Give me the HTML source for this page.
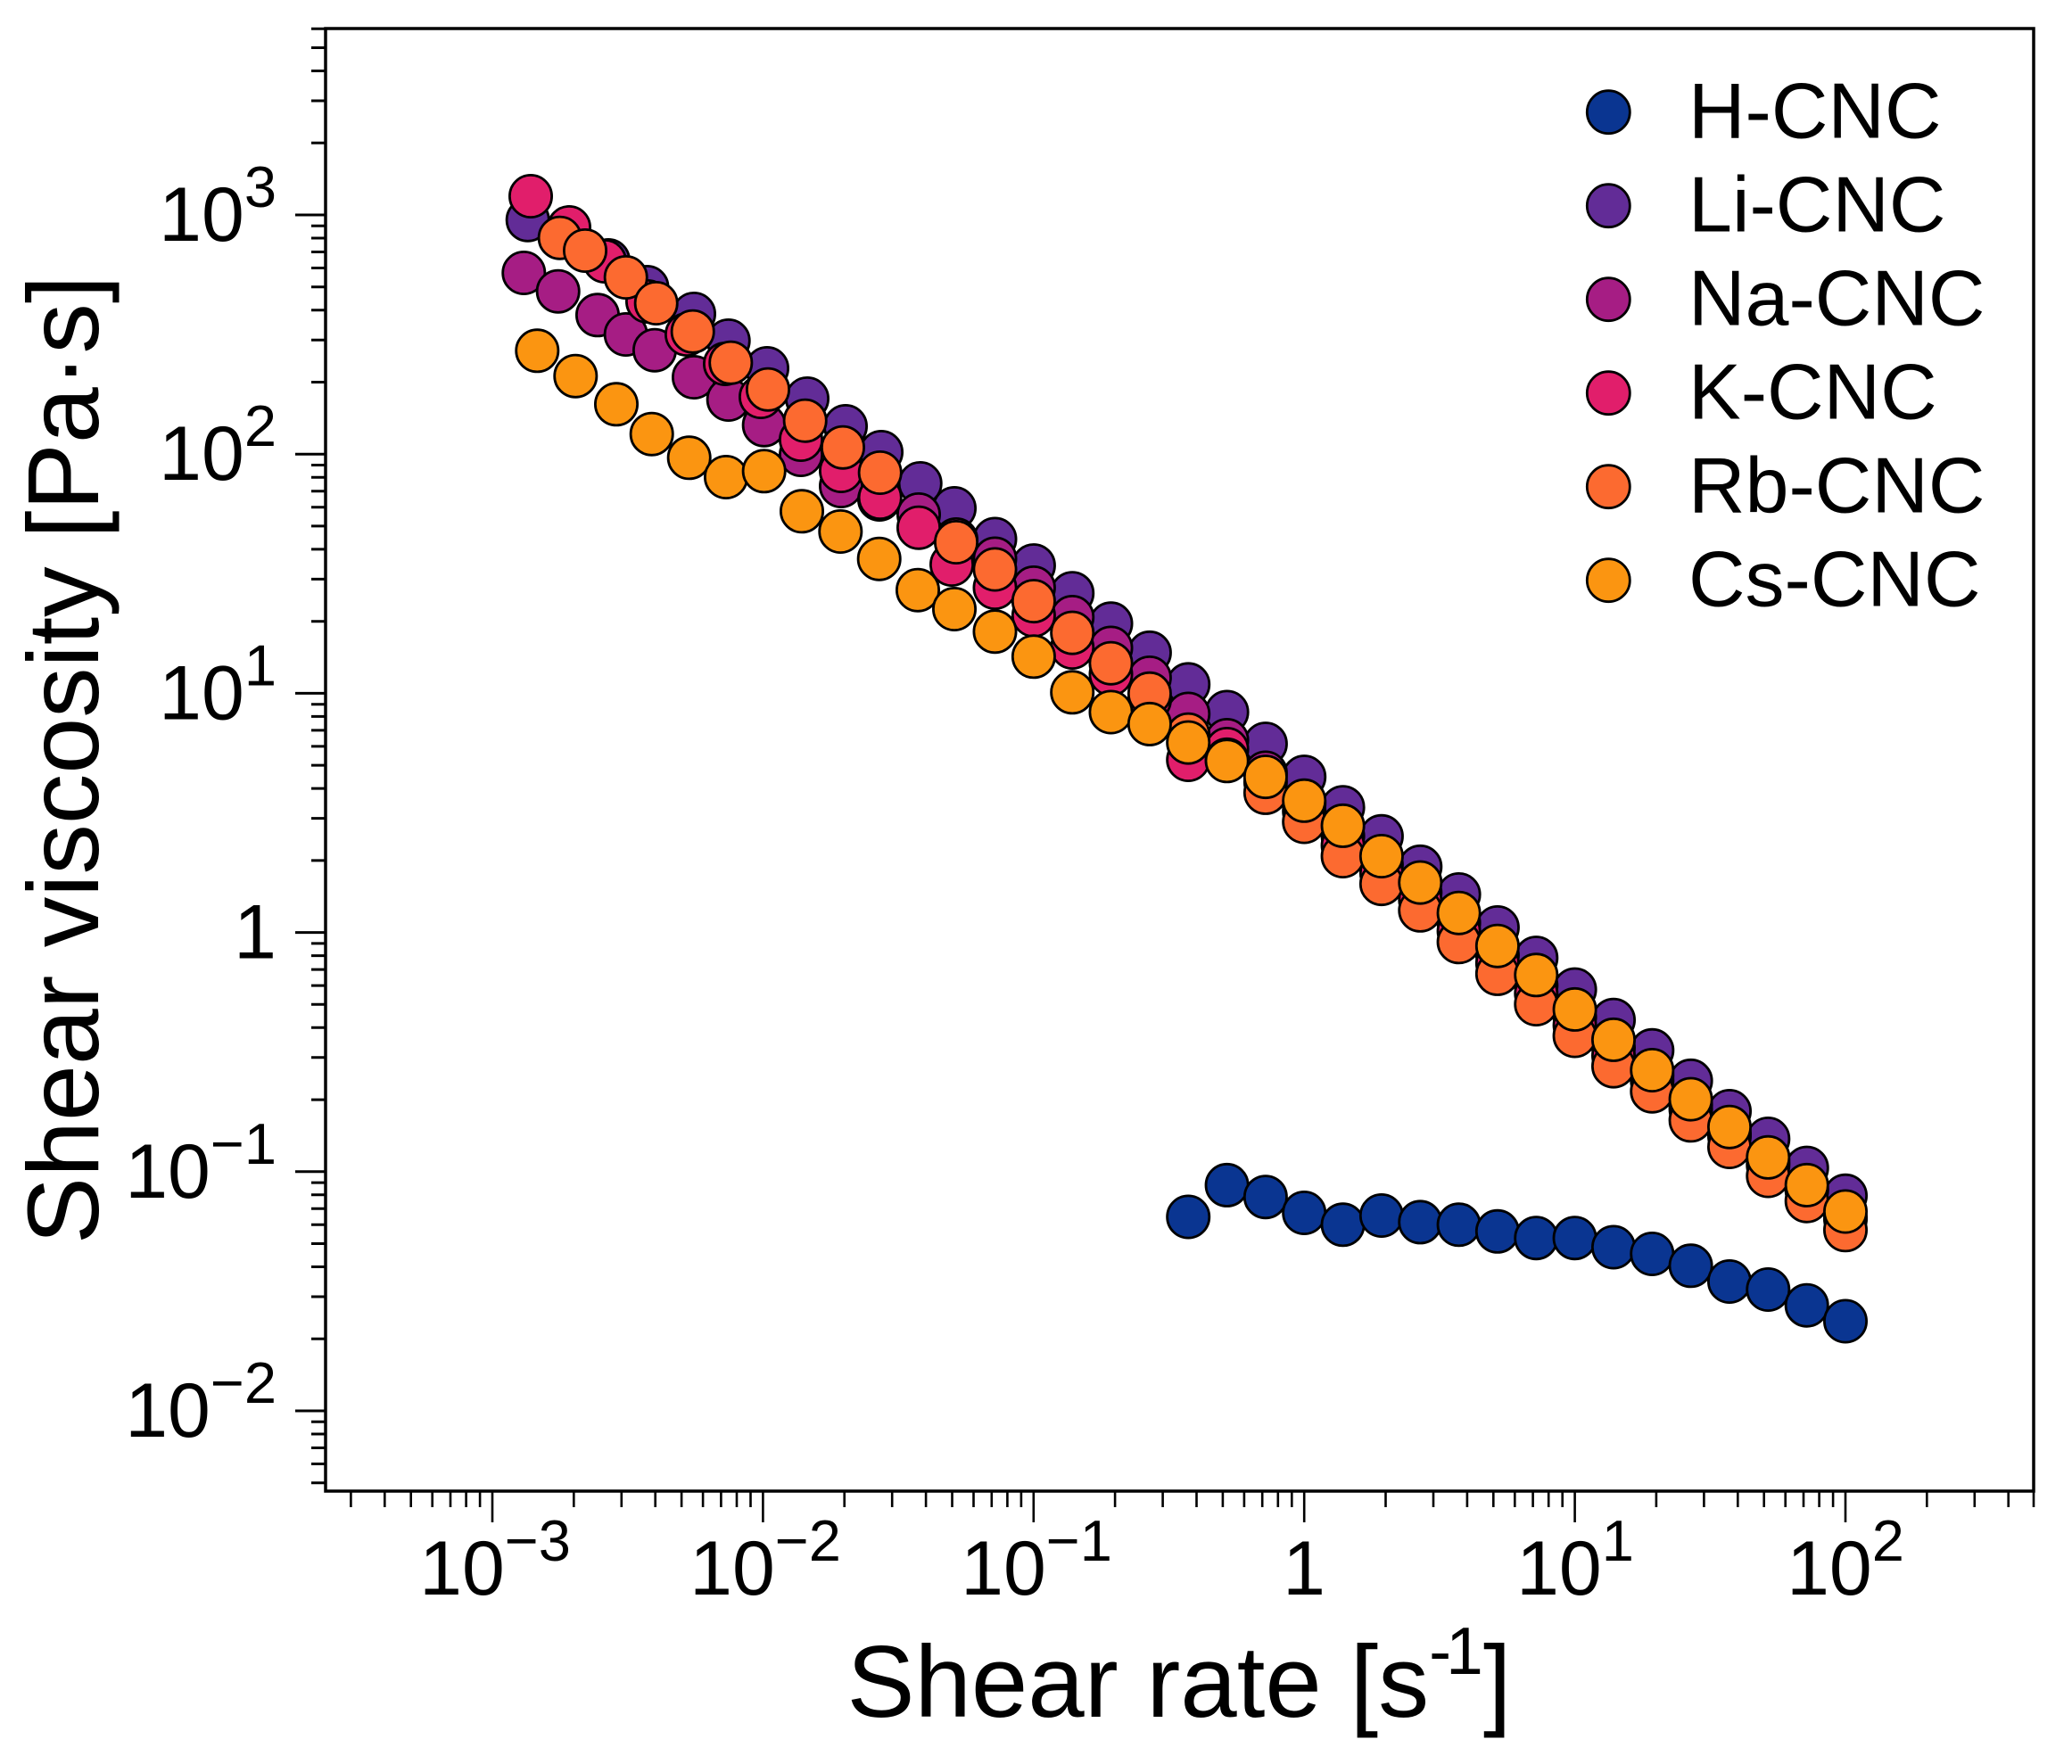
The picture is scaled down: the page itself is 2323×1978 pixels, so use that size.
<!DOCTYPE html>
<html><head><meta charset="utf-8"><style>html,body{margin:0;padding:0;background:#fff}svg{display:block}</style></head>
<body>
<svg xmlns="http://www.w3.org/2000/svg" width="2323" height="1978" viewBox="0 0 2323 1978" font-family="'Liberation Sans', Arial, Helvetica, sans-serif">
<rect width="2323" height="1978" fill="#fff"/>

<!-- Y ticks -->
<g stroke="#000" stroke-width="3">
<path d="M331 241H365M331 509.2H365M331 777.4H365M331 1045.6H365M331 1313.8H365M331 1582H365"/>
<path d="M349 1662.7H365M349 1641.5H365M349 1623.5H365M349 1608H365M349 1594.3H365
M349 1501.3H365M349 1454H365M349 1420.5H365M349 1394.5H365M349 1373.3H365M349 1355.3H365M349 1339.8H365M349 1326.1H365
M349 1233.1H365M349 1185.8H365M349 1152.3H365M349 1126.3H365M349 1105.1H365M349 1087.1H365M349 1071.6H365M349 1057.9H365
M349 964.9H365M349 917.6H365M349 884.1H365M349 858.1H365M349 836.9H365M349 818.9H365M349 803.4H365M349 789.7H365
M349 696.7H365M349 649.4H365M349 615.9H365M349 589.9H365M349 568.7H365M349 550.7H365M349 535.2H365M349 521.5H365
M349 428.5H365M349 381.2H365M349 347.7H365M349 321.7H365M349 300.5H365M349 282.5H365M349 267H365M349 253.3H365
M349 160.3H365M349 113H365M349 79.5H365M349 53.5H365M349 32.3H365"/>
</g>

<!-- X ticks -->
<g stroke="#000" stroke-width="2.6">
<path d="M552 1672V1707M855.4 1672V1707M1158.8 1672V1707M1462.2 1672V1707M1765.6 1672V1707M2069 1672V1707"/>
<path d="M393.4 1672V1690M431.3 1672V1690M460.7 1672V1690M484.7 1672V1690M505 1672V1690M522.6 1672V1690M538.1 1672V1690
M643.3 1672V1690M696.8 1672V1690M734.7 1672V1690M764.1 1672V1690M788.1 1672V1690M808.4 1672V1690M826 1672V1690M841.5 1672V1690
M946.7 1672V1690M1000.2 1672V1690M1038.1 1672V1690M1067.5 1672V1690M1091.5 1672V1690M1111.8 1672V1690M1129.4 1672V1690M1144.9 1672V1690
M1250.1 1672V1690M1303.6 1672V1690M1341.5 1672V1690M1370.9 1672V1690M1394.9 1672V1690M1415.2 1672V1690M1432.8 1672V1690M1448.3 1672V1690
M1553.5 1672V1690M1607 1672V1690M1644.9 1672V1690M1674.3 1672V1690M1698.3 1672V1690M1718.6 1672V1690M1736.2 1672V1690M1751.7 1672V1690
M1856.9 1672V1690M1910.4 1672V1690M1948.3 1672V1690M1977.7 1672V1690M2001.7 1672V1690M2022 1672V1690M2039.6 1672V1690M2055.1 1672V1690
M2160.3 1672V1690M2213.8 1672V1690M2251.7 1672V1690M2280 1672V1690"/>
</g>

<!-- Axes box -->
<rect x="365" y="32" width="1915" height="1640" fill="none" stroke="#000" stroke-width="3.5"/>

<!-- Y tick labels -->
<g font-size="86" fill="#000" text-anchor="end">
<text x="310" y="270">10<tspan font-size="65" dy="-38">3</tspan></text>
<text x="310" y="538.2">10<tspan font-size="65" dy="-38">2</tspan></text>
<text x="310" y="806.4">10<tspan font-size="65" dy="-38">1</tspan></text>
<text x="310" y="1074.6">1</text>
<text x="310" y="1342.8">10<tspan font-size="65" dy="-38">−1</tspan></text>
<text x="310" y="1611">10<tspan font-size="65" dy="-38">−2</tspan></text>
</g>

<!-- X tick labels -->
<g font-size="86" fill="#000" text-anchor="middle">
<text x="555" y="1788">10<tspan font-size="65" dy="-38">−3</tspan></text>
<text x="858" y="1788">10<tspan font-size="65" dy="-38">−2</tspan></text>
<text x="1162" y="1788">10<tspan font-size="65" dy="-38">−1</tspan></text>
<text x="1462" y="1788">1</text>
<text x="1766" y="1788">10<tspan font-size="65" dy="-38">1</tspan></text>
<text x="2069" y="1788">10<tspan font-size="65" dy="-38">2</tspan></text>
</g>

<!-- Axis titles -->
<text x="1322" y="1925" text-anchor="middle" font-size="114" fill="#000">Shear rate [s<tspan font-size="75" dy="-48">-</tspan><tspan font-size="75" dx="-6">1</tspan><tspan dy="48">]</tspan></text>
<text transform="translate(110,852) rotate(-90)" text-anchor="middle" font-size="113" fill="#000">Shear viscosity [Pa·s]</text>

<!-- Data -->
<g stroke="#000" stroke-width="2.8">
<!-- H-CNC -->
<g fill="#0a3591">
<circle cx="1332.2" cy="1364.5" r="23.6"/><circle cx="1375.6" cy="1328.9" r="23.6"/><circle cx="1418.9" cy="1342.2" r="23.6"/><circle cx="1462.2" cy="1360" r="23.6"/><circle cx="1505.6" cy="1373.3" r="23.6"/><circle cx="1548.9" cy="1363" r="23.6"/><circle cx="1592.3" cy="1370.4" r="23.6"/><circle cx="1635.6" cy="1373.3" r="23.6"/><circle cx="1678.9" cy="1380.8" r="23.6"/><circle cx="1722.3" cy="1388.2" r="23.6"/><circle cx="1765.6" cy="1388.2" r="23.6"/><circle cx="1809" cy="1398.5" r="23.6"/><circle cx="1852.3" cy="1406" r="23.6"/><circle cx="1895.6" cy="1419.3" r="23.6"/><circle cx="1939" cy="1437" r="23.6"/><circle cx="1982.3" cy="1446" r="23.6"/><circle cx="2025.7" cy="1463.7" r="23.6"/><circle cx="2069" cy="1481.5" r="23.6"/>
</g>
<!-- Li-CNC -->
<g fill="#622c97">
<circle cx="591.7" cy="246.7" r="23.6"/><circle cx="638.8" cy="265" r="23.6"/><circle cx="682" cy="292" r="23.6"/><circle cx="725.5" cy="322" r="23.6"/><circle cx="778" cy="352" r="23.6"/><circle cx="816.7" cy="382" r="23.6"/><circle cx="860" cy="413" r="23.6"/><circle cx="905" cy="447" r="23.6"/><circle cx="948" cy="478" r="23.6"/><circle cx="988" cy="507" r="23.6"/><circle cx="1031.7" cy="542" r="23.6"/><circle cx="1070" cy="570" r="23.6"/><circle cx="1115.5" cy="604.5" r="23.6"/><circle cx="1158.9" cy="634.1" r="23.6"/><circle cx="1202.2" cy="665.2" r="23.6"/><circle cx="1245.5" cy="699.3" r="23.6"/><circle cx="1288.9" cy="731.9" r="23.6"/><circle cx="1332.2" cy="767.4" r="23.6"/><circle cx="1375.6" cy="798.5" r="23.6"/><circle cx="1418.9" cy="834.1" r="23.6"/><circle cx="1462.2" cy="871.1" r="23.6"/><circle cx="1505.6" cy="905.2" r="23.6"/><circle cx="1548.9" cy="937.8" r="23.6"/><circle cx="1592.3" cy="971.9" r="23.6"/><circle cx="1635.6" cy="1003" r="23.6"/><circle cx="1678.9" cy="1040" r="23.6"/><circle cx="1722.3" cy="1074.1" r="23.6"/><circle cx="1765.6" cy="1109.6" r="23.6"/><circle cx="1809" cy="1143.7" r="23.6"/><circle cx="1852.3" cy="1177.8" r="23.6"/><circle cx="1895.6" cy="1211.9" r="23.6"/><circle cx="1939" cy="1246" r="23.6"/><circle cx="1982.3" cy="1277" r="23.6"/><circle cx="2025.7" cy="1309.6" r="23.6"/><circle cx="2069" cy="1340.8" r="23.6"/>
</g>
<!-- Na-CNC -->
<g fill="#a61d84">
<circle cx="587.3" cy="306" r="23.6"/><circle cx="625.7" cy="326.7" r="23.6"/><circle cx="670" cy="353.3" r="23.6"/><circle cx="701.7" cy="375" r="23.6"/><circle cx="734" cy="392.7" r="23.6"/><circle cx="778" cy="423" r="23.6"/><circle cx="816.7" cy="448" r="23.6"/><circle cx="856.7" cy="476.7" r="23.6"/><circle cx="898" cy="510" r="23.6"/><circle cx="943" cy="545" r="23.6"/><circle cx="986" cy="560" r="23.6"/><circle cx="1030" cy="577" r="23.6"/><circle cx="1072" cy="605" r="23.6"/><circle cx="1115.5" cy="626.5" r="23.6"/><circle cx="1158.9" cy="659" r="23.6"/><circle cx="1202.2" cy="692" r="23.6"/><circle cx="1245.5" cy="726.5" r="23.6"/><circle cx="1288.9" cy="760" r="23.6"/><circle cx="1332.2" cy="800.5" r="23.6"/><circle cx="1375.6" cy="830" r="23.6"/><circle cx="1418.9" cy="866.5" r="23.6"/><circle cx="1462.2" cy="901" r="23.6"/><circle cx="1505.6" cy="937.6" r="23.6"/><circle cx="1548.9" cy="969.5" r="23.6"/><circle cx="1592.3" cy="1001" r="23.6"/><circle cx="1635.6" cy="1034.7" r="23.6"/><circle cx="1678.9" cy="1071" r="23.6"/><circle cx="1722.3" cy="1105" r="23.6"/><circle cx="1765.6" cy="1140.5" r="23.6"/><circle cx="1809" cy="1174.7" r="23.6"/><circle cx="1852.3" cy="1205.8" r="23.6"/><circle cx="1895.6" cy="1239" r="23.6"/><circle cx="1939" cy="1271" r="23.6"/><circle cx="1982.3" cy="1302.8" r="23.6"/><circle cx="2025.7" cy="1333" r="23.6"/><circle cx="2069" cy="1365" r="23.6"/>
</g>
<!-- K-CNC -->
<g fill="#e11e6b">
<circle cx="595" cy="220" r="23.6"/><circle cx="638" cy="255" r="23.6"/><circle cx="678" cy="293" r="23.6"/><circle cx="726" cy="338" r="23.6"/><circle cx="770" cy="375" r="23.6"/><circle cx="813" cy="408" r="23.6"/><circle cx="853" cy="445" r="23.6"/><circle cx="898" cy="493" r="23.6"/><circle cx="943" cy="528" r="23.6"/><circle cx="986.7" cy="558" r="23.6"/><circle cx="1030" cy="591.7" r="23.6"/><circle cx="1067" cy="633" r="23.6"/><circle cx="1115.5" cy="659" r="23.6"/><circle cx="1158.9" cy="690" r="23.6"/><circle cx="1202.2" cy="726" r="23.6"/><circle cx="1245.5" cy="756" r="23.6"/><circle cx="1288.9" cy="785" r="23.6"/><circle cx="1332.2" cy="852" r="23.6"/><circle cx="1375.6" cy="840" r="23.6"/><circle cx="1418.9" cy="877" r="23.6"/><circle cx="1462.2" cy="909.5" r="23.6"/><circle cx="1505.6" cy="948" r="23.6"/><circle cx="1548.9" cy="979" r="23.6"/><circle cx="1592.3" cy="1009" r="23.6"/><circle cx="1635.6" cy="1044" r="23.6"/><circle cx="1678.9" cy="1080" r="23.6"/><circle cx="1722.3" cy="1114" r="23.6"/><circle cx="1765.6" cy="1149.5" r="23.6"/><circle cx="1809" cy="1183.6" r="23.6"/><circle cx="1852.3" cy="1212" r="23.6"/><circle cx="1895.6" cy="1244" r="23.6"/><circle cx="1939" cy="1274" r="23.6"/><circle cx="1982.3" cy="1306.5" r="23.6"/><circle cx="2025.7" cy="1334.7" r="23.6"/><circle cx="2069" cy="1367" r="23.6"/>
</g>
<!-- Rb-CNC -->
<g fill="#fc6a30">
<circle cx="627.7" cy="266.7" r="23.6"/><circle cx="656" cy="281" r="23.6"/><circle cx="701.7" cy="311" r="23.6"/><circle cx="735.7" cy="340" r="23.6"/><circle cx="776.7" cy="371.7" r="23.6"/><circle cx="819.3" cy="406.7" r="23.6"/><circle cx="861" cy="436.7" r="23.6"/><circle cx="902.7" cy="471.7" r="23.6"/><circle cx="945" cy="501.7" r="23.6"/><circle cx="986.7" cy="530" r="23.6"/><circle cx="1072" cy="608" r="23.6"/><circle cx="1115.5" cy="638.5" r="23.6"/><circle cx="1158.9" cy="674.1" r="23.6"/><circle cx="1202.2" cy="709.6" r="23.6"/><circle cx="1245.5" cy="743.7" r="23.6"/><circle cx="1288.9" cy="777.8" r="23.6"/><circle cx="1332.2" cy="823.7" r="23.6"/><circle cx="1375.6" cy="851.9" r="23.6"/><circle cx="1418.9" cy="888.9" r="23.6"/><circle cx="1462.2" cy="921.5" r="23.6"/><circle cx="1505.6" cy="960" r="23.6"/><circle cx="1548.9" cy="991.1" r="23.6"/><circle cx="1592.3" cy="1020.8" r="23.6"/><circle cx="1635.6" cy="1056.3" r="23.6"/><circle cx="1678.9" cy="1091.9" r="23.6"/><circle cx="1722.3" cy="1126" r="23.6"/><circle cx="1765.6" cy="1161.5" r="23.6"/><circle cx="1809" cy="1195.6" r="23.6"/><circle cx="1852.3" cy="1223.7" r="23.6"/><circle cx="1895.6" cy="1256.3" r="23.6"/><circle cx="1939" cy="1286" r="23.6"/><circle cx="1982.3" cy="1318.5" r="23.6"/><circle cx="2025.7" cy="1346.7" r="23.6"/><circle cx="2069" cy="1379.3" r="23.6"/>
</g>
<!-- Cs-CNC -->
<g fill="#fb9511">
<circle cx="602.3" cy="393.3" r="23.6"/><circle cx="645.3" cy="421.7" r="23.6"/><circle cx="691" cy="453.3" r="23.6"/><circle cx="730.7" cy="486.7" r="23.6"/><circle cx="772.7" cy="513.3" r="23.6"/><circle cx="814" cy="535" r="23.6"/><circle cx="856.7" cy="528.3" r="23.6"/><circle cx="899" cy="573.3" r="23.6"/><circle cx="942.3" cy="596" r="23.6"/><circle cx="985.7" cy="626.7" r="23.6"/><circle cx="1029" cy="661.7" r="23.6"/><circle cx="1070" cy="683" r="23.6"/><circle cx="1115.5" cy="708.2" r="23.6"/><circle cx="1158.9" cy="736.3" r="23.6"/><circle cx="1202.2" cy="776.3" r="23.6"/><circle cx="1245.5" cy="798.5" r="23.6"/><circle cx="1288.9" cy="811.9" r="23.6"/><circle cx="1332.2" cy="832.6" r="23.6"/><circle cx="1375.6" cy="853.3" r="23.6"/><circle cx="1418.9" cy="871.1" r="23.6"/><circle cx="1462.2" cy="897.8" r="23.6"/><circle cx="1505.6" cy="925.9" r="23.6"/><circle cx="1548.9" cy="960" r="23.6"/><circle cx="1592.3" cy="989.6" r="23.6"/><circle cx="1635.6" cy="1023.7" r="23.6"/><circle cx="1678.9" cy="1060.7" r="23.6"/><circle cx="1722.3" cy="1093.3" r="23.6"/><circle cx="1765.6" cy="1131.9" r="23.6"/><circle cx="1809" cy="1165.9" r="23.6"/><circle cx="1852.3" cy="1200" r="23.6"/><circle cx="1895.6" cy="1232.6" r="23.6"/><circle cx="1939" cy="1263.7" r="23.6"/><circle cx="1982.3" cy="1297.8" r="23.6"/><circle cx="2025.7" cy="1328.9" r="23.6"/><circle cx="2069" cy="1358.5" r="23.6"/>
</g>
</g>

<!-- Legend -->
<g stroke="#000" stroke-width="2.8">
<circle cx="1803.3" cy="125.7" r="24" fill="#0a3591"/>
<circle cx="1803.3" cy="230.7" r="24" fill="#622c97"/>
<circle cx="1803.3" cy="335.7" r="24" fill="#a61d84"/>
<circle cx="1803.3" cy="440.7" r="24" fill="#e11e6b"/>
<circle cx="1803.3" cy="545.7" r="24" fill="#fc6a30"/>
<circle cx="1803.3" cy="650.7" r="24" fill="#fb9511"/>
</g>
<g font-size="88" fill="#000">
<text x="1893" y="154.5">H-CNC</text>
<text x="1893" y="259.5">Li-CNC</text>
<text x="1893" y="364.5">Na-CNC</text>
<text x="1893" y="469.5">K-CNC</text>
<text x="1893" y="574.5">Rb-CNC</text>
<text x="1893" y="679.5">Cs-CNC</text>
</g>
</svg>
</body></html>
